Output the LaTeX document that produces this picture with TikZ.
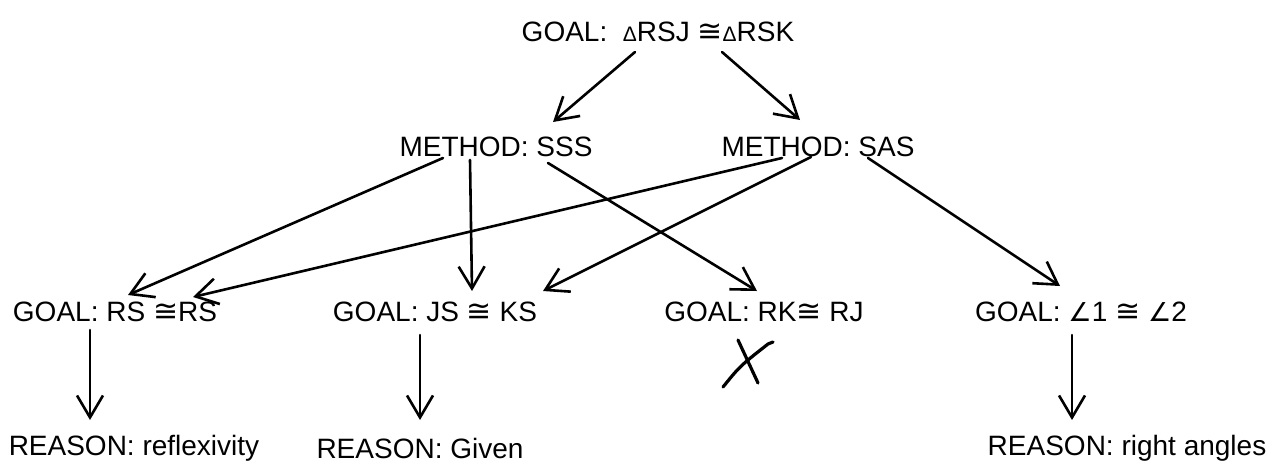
\documentclass[tikz,border=0pt]{standalone}
\usepackage{fontspec}
\setmainfont{Liberation Sans}
\newfontfamily\symfont{DejaVu Sans}
\usetikzlibrary{arrows.meta}

% congruence and angle signs, and the small triangle
\newcommand\cng{{\symfont\fontsize{15}{15}\selectfont ≅}}
\newcommand\ang{{\symfont\fontsize{13}{13}\selectfont ∠}}
\newcommand\tri{{\fontsize{10.5}{10.5}\selectfont Δ}}

\begin{document}
\begin{tikzpicture}[x=0.5pt,y=-0.5pt,
  font=\fontsize{14}{16}\selectfont,
  lbl/.style={inner sep=1pt},
  hand/.style={line width=1.3pt, line cap=round,
    -{Straight Barb[length=11pt,width=13pt,line width=1.3pt]}},
  strike/.style={line width=1.6pt, line cap=round}]
\useasboundingbox (0,0) rectangle (1277,467);

% goal tree
\node[lbl] (top)  at (658,32)  {GOAL:\ \ \tri RSJ \cng\tri RSK};
\node[lbl] (sss)  at (496,147) {METHOD: SSS};
\node[lbl] (sas)  at (818,147) {METHOD: SAS};
\node[lbl] (rs)   at (115,312) {GOAL: RS \cng RS};
\node[lbl] (js)   at (435,312) {GOAL: JS \cng\ KS};
\node[lbl] (rk)   at (764,312) {GOAL: RK\cng\ RJ};
\node[lbl] (an)   at (1081,312){GOAL: \ang1 \cng\ \ang2};
\node[lbl] (rrs)  at (134,448) {REASON: reflexivity};
\node[lbl] (rjs)  at (420,448) {REASON: Given};
\node[lbl] (ran)  at (1127,448){REASON: right angles};

% end points of the hand-drawn connectors
\coordinate (top-l) at (635,52);   \coordinate (sss-t) at (553,122);
\coordinate (top-r) at (722,52);   \coordinate (sas-t) at (800,120);
\coordinate (sss-a) at (443,158);  \coordinate (rs-a)  at (128,295);
\coordinate (sss-b) at (470,160);  \coordinate (js-a)  at (472,291);
\coordinate (sss-c) at (548,163);  \coordinate (rk-a)  at (757,291);
\coordinate (sas-a) at (782,158);  \coordinate (rs-b)  at (193,297);
\coordinate (sas-b) at (811,157);  \coordinate (js-b)  at (543,291);
\coordinate (sas-c) at (868,158);  \coordinate (an-a)  at (1060,286);
\coordinate (rs-d)  at (90,330);   \coordinate (rrs-t) at (90,420);
\coordinate (js-d)  at (420,335);  \coordinate (rjs-t) at (420,420);
\coordinate (an-d)  at (1072,335); \coordinate (ran-t) at (1072,420);

\draw[hand] (top-l) -- (sss-t);
\draw[hand] (top-r) -- (sas-t);
\draw[hand] (sss-a) -- (rs-a);
\draw[hand] (sss-b) -- (js-a);
\draw[hand] (sss-c) -- (rk-a);
\draw[hand] (sas-a) -- (rs-b);
\draw[hand] (sas-b) -- (js-b);
\draw[hand] (sas-c) -- (an-a);
\draw[hand] (rs-d) -- (rrs-t);
\draw[hand] (js-d) -- (rjs-t);
\draw[hand] (an-d) -- (ran-t);

% the crossed-out branch
\coordinate (x1) at (738,340); \coordinate (x2) at (758,383);
\coordinate (x3) at (723,387); \coordinate (x4) at (768,344);
\draw[strike] (x1) -- (x2);
\draw[strike] (x3) .. controls (740,366) .. (x4) -- (773,342);
\end{tikzpicture}
\end{document}
